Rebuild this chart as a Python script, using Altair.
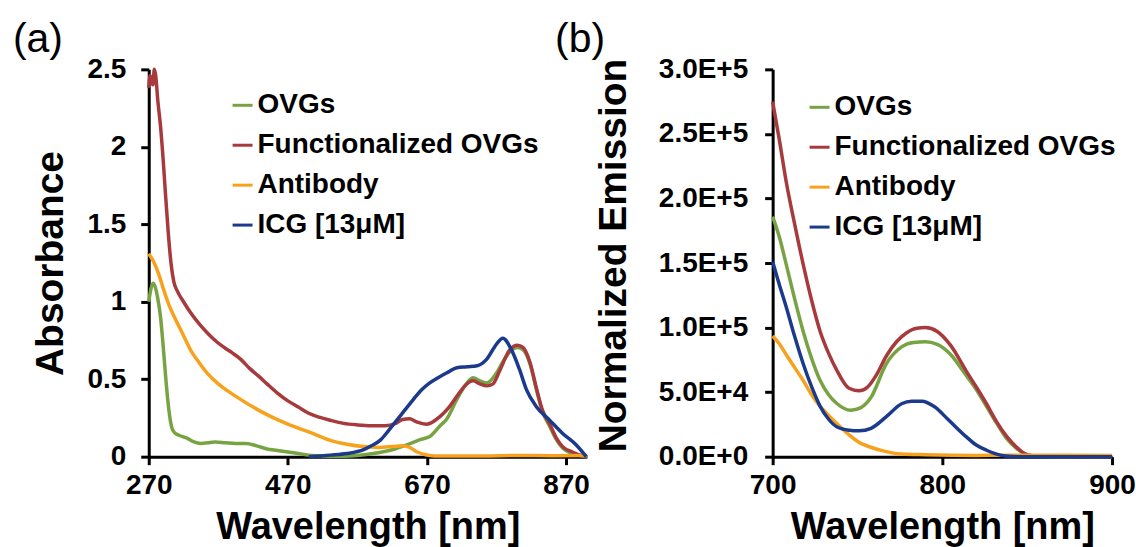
import altair as alt
import pandas as pd

FONT = "Liberation Sans"

series_names = ["OVGs", "Functionalized OVGs", "Antibody", "ICG [13μM]"]
series_colors = ["#78a343", "#a63a3d", "#f8a11d", "#1c3a8c"]

# ---------------- Panel (a): absorbance ----------------
a_ovgs_wl = [270, 273, 276, 279, 283, 287, 291, 295, 299, 303, 307, 315, 325, 335, 345, 355, 365,
             380, 395, 410, 425, 440, 455, 470, 485, 500, 520, 540, 560, 580, 600, 620, 640, 660,
             674, 689, 698, 713, 725, 736, 746, 756, 770, 780, 790, 800, 808, 818, 828, 836, 846,
             856, 865, 879, 890, 900]
a_ovgs_abs = [1.00, 1.08, 1.12, 1.10, 1.02, 0.90, 0.70, 0.48, 0.30, 0.19, 0.155, 0.135, 0.12, 0.095,
              0.085, 0.09, 0.095, 0.09, 0.085, 0.085, 0.07, 0.05, 0.04, 0.03, 0.02, 0.01, 0.005,
              0.003, 0.005, 0.012, 0.025, 0.045, 0.075, 0.11, 0.13, 0.2, 0.24, 0.37, 0.46, 0.51,
              0.49, 0.475, 0.54, 0.62, 0.68, 0.705, 0.69, 0.60, 0.42, 0.29, 0.20, 0.11, 0.055,
              0.02, 0.008, 0.0]

a_func_wl = [270, 272, 274, 276, 278, 280, 283, 287, 291, 294, 298, 302, 306, 311, 320, 330, 342,
             354, 368, 380, 390, 402, 415, 428, 440, 455, 470, 485, 500, 515, 531, 550, 570, 590,
             610, 625, 635, 645, 655, 670, 689, 700, 713, 725, 736, 746, 756, 765, 775, 789, 800,
             808, 818, 828, 836, 846, 856, 865, 879, 890, 900]
a_func_abs = [2.38, 2.46, 2.42, 2.40, 2.50, 2.46, 2.30, 2.13, 1.90, 1.70, 1.45, 1.25, 1.13, 1.07,
              1.00, 0.93, 0.86, 0.80, 0.74, 0.70, 0.67, 0.63, 0.57, 0.52, 0.47, 0.41, 0.36, 0.32,
              0.28, 0.255, 0.235, 0.215, 0.205, 0.20, 0.20, 0.215, 0.24, 0.245, 0.225, 0.21,
              0.26, 0.31, 0.39, 0.46, 0.49, 0.47, 0.457, 0.47, 0.56, 0.69, 0.72, 0.705, 0.61,
              0.43, 0.30, 0.215, 0.12, 0.065, 0.03, 0.01, 0.0]

a_anti_wl = [270, 278, 285, 292, 299, 306, 318, 330, 342, 354, 370, 385, 402, 420, 445, 470, 500,
             531, 555, 578, 600, 620, 635, 645, 656, 668, 680, 700, 750, 800, 850, 900]
a_anti_abs = [1.31, 1.25, 1.17, 1.07, 0.98, 0.91, 0.80, 0.69, 0.61, 0.54, 0.47, 0.42, 0.37, 0.32,
              0.26, 0.21, 0.16, 0.105, 0.08, 0.065, 0.06, 0.065, 0.07, 0.06, 0.03, 0.012, 0.005,
              0.005, 0.005, 0.008, 0.006, 0.008]

a_icg_wl = [500, 531, 555, 579, 590, 603, 615, 627, 638, 650, 662, 674, 686, 698, 713, 728, 742,
            756, 770, 779, 791, 803, 813, 827, 846, 865, 885, 899]
a_icg_abs = [0.0, 0.01, 0.02, 0.045, 0.07, 0.107, 0.17, 0.237, 0.30, 0.367, 0.43, 0.476, 0.51,
             0.54, 0.574, 0.58, 0.587, 0.63, 0.727, 0.764, 0.694, 0.563, 0.433, 0.324, 0.237,
             0.15, 0.074, 0.0]

a_x_ticks = [270, 470, 670, 870]
a_y_ticks = [0, 0.5, 1, 1.5, 2, 2.5]

# ---------------- Panel (b): emission ----------------
b_ovgs_wl = [700, 704, 708, 713, 718, 723, 728, 733, 738, 746, 752, 758, 767, 776, 783, 790, 797,
             805, 814, 820, 826, 832, 838, 844, 850, 856, 870, 900]
b_ovgs_em = [186000, 170000, 149000, 122000, 97000, 76000, 59000, 48000, 41000, 36000, 38000,
             46000, 72000, 85000, 88500, 89000, 87000, 79000, 63000, 52000, 39000, 26000, 14000,
             6000, 1500, 300, 100, 100]

b_func_wl = [700, 704, 708, 713, 718, 723, 728, 733, 738, 745, 751, 756, 761, 767, 773, 779, 785,
             790, 797, 805, 814, 820, 826, 832, 838, 844, 849, 855, 870, 900]
b_func_em = [275000, 245000, 213000, 180000, 149000, 121000, 97000, 80000, 66500, 53000, 51000,
             54000, 63000, 78000, 89000, 96000, 99500, 100000, 97000, 86000, 66500, 54000, 41000,
             27000, 15500, 7000, 2000, 500, 200, 200]

b_anti_wl = [700, 704, 708, 713, 718, 723, 728, 733, 738, 745, 751, 757, 765, 776, 790, 820, 860,
             900]
b_anti_em = [93500, 87300, 79000, 69000, 59000, 48000, 39000, 32000, 25500, 17000, 11000, 7700,
             4500, 2000, 1500, 1000, 1200, 1000]

b_icg_wl = [700, 704, 708, 713, 718, 723, 728, 733, 738, 745, 751, 758, 767, 776, 782, 788, 795,
            804, 814, 820, 826, 832, 837, 845, 900]
b_icg_em = [151000, 133000, 116000, 93000, 72000, 54000, 39000, 29000, 23000, 20500, 20000,
            22000, 31000, 41000, 43000, 43000, 39000, 28000, 15500, 9000, 5000, 2000, 500, 0, 0]

b_x_ticks = [700, 800, 900]
b_y_ticks = [0, 50000, 100000, 150000, 200000, 250000, 300000]
b_y_labels = ["0.0E+0", "5.0E+4", "1.0E+5", "1.5E+5", "2.0E+5", "2.5E+5", "3.0E+5"]


def frame(wls, vals):
    rows = []
    for name, wl, val in zip(series_names, wls, vals):
        for w, v in zip(wl, val):
            rows.append({"series": name, "wl": w, "val": v})
    return pd.DataFrame(rows)


df_a = frame([a_ovgs_wl, a_func_wl, a_anti_wl, a_icg_wl],
             [a_ovgs_abs, a_func_abs, a_anti_abs, a_icg_abs])
df_b = frame([b_ovgs_wl, b_func_wl, b_anti_wl, b_icg_wl],
             [b_ovgs_em, b_func_em, b_anti_em, b_icg_em])

label_expr_b = " : ".join(
    [f"datum.value == {v} ? '{l}'" for v, l in zip(b_y_ticks, b_y_labels)]
) + " : ''"

H = 388


def panel(df, xdom, xticks, ydom, yticks, ytitle, ytitle_x, ytitle_y, ylabpad,
          width, legend_x, legend_y, tag, tag_dx, yfmt=None, yexpr=None):
    yaxis = dict(values=yticks, title=ytitle, titleX=ytitle_x, titleY=ytitle_y,
                 titleAngle=-90, titleBaseline="middle", titleAlign="center",
                 titleFontSize=39, labelPadding=ylabpad)
    if yexpr is not None:
        yaxis["labelExpr"] = yexpr
    else:
        yaxis["format"] = yfmt
    lines = alt.Chart(df).mark_line(strokeWidth=3.5, interpolate="monotone").encode(
        x=alt.X("wl:Q", scale=alt.Scale(domain=xdom, nice=False, zero=False),
                axis=alt.Axis(values=xticks, title="Wavelength [nm]", titleY=82,
                              titleFontSize=38, titleBaseline="alphabetic", labelPadding=7)),
        y=alt.Y("val:Q", scale=alt.Scale(domain=ydom, nice=False), axis=alt.Axis(**yaxis)),
        color=alt.Color("series:N",
                        scale=alt.Scale(domain=series_names, range=series_colors),
                        legend=alt.Legend(orient="none", legendX=legend_x, legendY=legend_y,
                                          title=None, symbolType="stroke", symbolSize=400,
                                          symbolStrokeWidth=3, labelOffset=1, rowPadding=12,
                                          padding=0, labelFont=FONT, labelFontSize=28,
                                          labelFontWeight="bold", labelColor="black",
                                          labelLimit=500)),
    )
    label = alt.Chart(pd.DataFrame({"tag": [tag]})).mark_text(
        align="left", baseline="alphabetic", font=FONT, fontSize=41, color="black"
    ).encode(text="tag:N", x=alt.value(tag_dx), y=alt.value(-17))
    return alt.layer(lines, label).properties(width=width, height=H)


pa = panel(df_a, [270, 900], a_x_ticks, [0, 2.5], a_y_ticks, "Absorbance", -98, H / 2, 15,
           439, 80, 22, "(a)", -136, yfmt="~g")
pb = panel(df_b, [700, 900], b_x_ticks, [0, 300000], b_y_ticks, "Normalized Emission", -159,
           H / 2 - 8, 17, 340, 33, 24, "(b)", -218, yexpr=label_expr_b)

chart = alt.hconcat(pa, pb, spacing=186, bounds="flush").resolve_scale(
    color="independent"
).resolve_legend(color="independent").properties(
    padding={"left": 12, "top": 18, "right": 0, "bottom": 0}
).configure_view(stroke="transparent").configure_axis(
    labelFont=FONT, labelFontSize=28, labelFontWeight="bold", labelColor="black",
    titleFont=FONT, titleFontWeight="bold", titleColor="black",
    domainColor="black", domainWidth=3, tickColor="black", tickWidth=3, tickSize=8,
    grid=False, labelFlush=False, labelOverlap=False
)

chart.save("out.html", embed_options={"renderer": "svg", "actions": False})
